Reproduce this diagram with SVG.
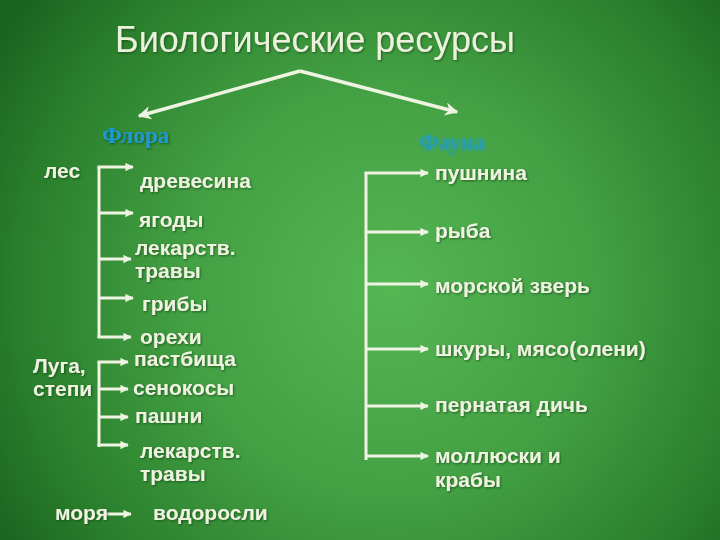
<svg xmlns="http://www.w3.org/2000/svg" width="720" height="540" viewBox="0 0 720 540">
<defs>
  <radialGradient id="bg" cx="390" cy="290" r="460" gradientUnits="userSpaceOnUse">
    <stop offset="0" stop-color="#55b654"/>
    <stop offset="0.45" stop-color="#43a043"/>
    <stop offset="0.8" stop-color="#2a7f2c"/>
    <stop offset="1" stop-color="#1c6520"/>
  </radialGradient>
  <filter id="sh" x="-10%" y="-30%" width="120%" height="160%">
    <feDropShadow dx="1" dy="1" stdDeviation="0.8" flood-color="#0b3a0d" flood-opacity="0.65"/>
  </filter>
  <filter id="blur" x="-10%" y="-30%" width="120%" height="160%">
    <feGaussianBlur stdDeviation="0.9"/>
  </filter>
  <marker id="ah" viewBox="0 0 10 10" refX="9" refY="5" markerWidth="3.2" markerHeight="2.8" orient="auto" markerUnits="strokeWidth">
    <path d="M0,0 L10,5 L0,10 z" fill="#eef3e2"/>
  </marker>
  <marker id="ahBig" viewBox="0 0 10 10" refX="9" refY="5" markerWidth="4.6" markerHeight="3.8" orient="auto" markerUnits="strokeWidth">
    <path d="M0,0 L10,5 L0,10 L3,5 z" fill="#eef3e2"/>
  </marker>
  <style>
    .t{font-family:"Liberation Sans",Arial,sans-serif;font-weight:bold;font-size:21px;fill:#eef3e0;filter:url(#sh)}
    .title{font-family:"Liberation Sans",Arial,sans-serif;font-size:36px;fill:#eaf2dc;filter:url(#sh)}
    .cat{font-family:"Liberation Serif","Times New Roman",serif;font-weight:bold;font-size:23px;fill:#1c9ad2;filter:url(#sh)}
    .ln{fill:none;stroke:#eef3e2;stroke-width:3}
    .arr{fill:none;stroke:#eef3e2;stroke-width:3;marker-end:url(#ah)}
    .big{fill:none;stroke:#eef3e2;stroke-width:3.5;marker-end:url(#ahBig)}
  </style>
</defs>
<rect width="720" height="540" fill="url(#bg)"/>

<g id="title"><text class="title" x="115" y="52">Биологические ресурсы</text></g>

<g id="connectors">
  <path class="big" d="M300,71 L139,116"/>
  <path class="big" d="M300,71 L457,112"/>
  <!-- лес bracket -->
  <path class="ln" d="M99,338 L99,167"/>
  <path class="arr" d="M97.5,167 L133,167"/>
  <path class="arr" d="M99,213 L133,213"/>
  <path class="arr" d="M99,259 L131,259"/>
  <path class="arr" d="M99,298 L133,298"/>
  <path class="arr" d="M97.5,337 L131,337"/>
  <!-- Луга bracket -->
  <path class="ln" d="M99,447 L99,362"/>
  <path class="arr" d="M97.5,362 L128,362"/>
  <path class="arr" d="M99,389 L128,389"/>
  <path class="arr" d="M99,417 L128,417"/>
  <path class="arr" d="M97.5,445 L128,445"/>
  <!-- моря -->
  <path class="arr" d="M104,514 L131,514"/>
  <!-- fauna bracket -->
  <path class="ln" d="M366,460 L366,173"/>
  <path class="arr" d="M364.5,173 L428,173"/>
  <path class="arr" d="M366,232 L428,232"/>
  <path class="arr" d="M366,284 L428,284"/>
  <path class="arr" d="M366,349 L428,349"/>
  <path class="arr" d="M366,406 L428,406"/>
  <path class="arr" d="M366,456 L428,456"/>
</g>

<g id="flora"><text class="cat" x="102" y="143">Флора</text></g>
<g id="fauna"><text class="cat" x="419" y="150" style="filter:url(#blur)">Фауна</text></g>

<g id="les"><text class="t" x="44" y="178">лес</text></g>
<g id="drevesina"><text class="t" x="140" y="188">древесина</text></g>
<g id="yagody"><text class="t" x="139" y="227">ягоды</text></g>
<g id="lekarstv1"><text class="t" x="135" y="255">лекарств.</text><text class="t" x="135" y="278">травы</text></g>
<g id="griby"><text class="t" x="142" y="311">грибы</text></g>
<g id="orehi"><text class="t" x="140" y="344">орехи</text></g>

<g id="luga"><text class="t" x="33" y="373">Луга,</text><text class="t" x="33" y="396">степи</text></g>
<g id="pastbischa"><text class="t" x="134" y="366">пастбища</text></g>
<g id="senokosy"><text class="t" x="133" y="395">сенокосы</text></g>
<g id="pashni"><text class="t" x="135" y="423">пашни</text></g>
<g id="lekarstv2"><text class="t" x="140" y="458">лекарств.</text><text class="t" x="140" y="481">травы</text></g>

<g id="morya"><text class="t" x="55" y="520">моря</text></g>
<g id="vodorosli"><text class="t" x="153" y="520">водоросли</text></g>

<g id="pushnina"><text class="t" x="435" y="180">пушнина</text></g>
<g id="ryba"><text class="t" x="435" y="238">рыба</text></g>
<g id="morzver"><text class="t" x="435" y="293">морской зверь</text></g>
<g id="shkury"><text class="t" x="435" y="356">шкуры, мясо(олени)</text></g>
<g id="dich"><text class="t" x="435" y="412">пернатая дичь</text></g>
<g id="mollyuski"><text class="t" x="435" y="463">моллюски и</text><text class="t" x="435" y="487">крабы</text></g>
</svg>
